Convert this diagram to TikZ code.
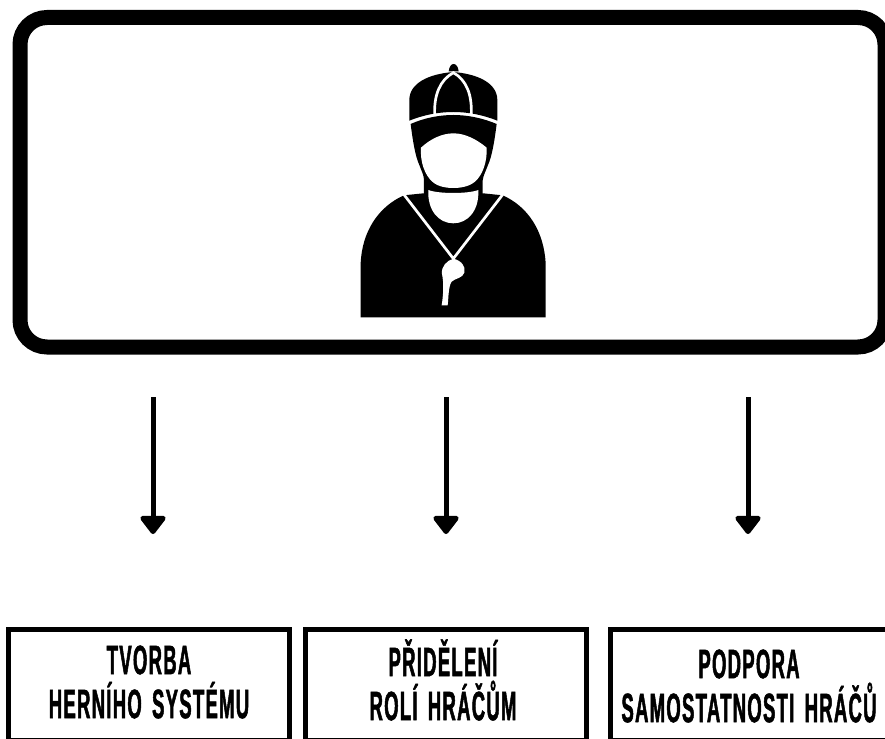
\documentclass[tikz,border=0pt]{standalone}
\usepackage{fontspec}
\setmainfont{Liberation Sans}[BoldFont={Liberation Sans Bold}]
\newfontfamily\condfont{Liberation Sans Bold}[FakeStretch=0.45,LetterSpace=3.2,FakeBold=1.2,WordSpace=1.6]
\usetikzlibrary{arrows.meta}
\tikzset{
  panel/.style={draw=black,line width=15pt,rounded corners=27pt,fill=white},
  taskbox/.style={draw=black,line width=5pt,fill=white,inner sep=0pt},
  tasklabel/.style={align=center,text=black,inner sep=0pt,font=\condfont\fontsize{41}{44}\selectfont},
  flow/.style={draw=black,line width=5pt,-{Triangle[width=29pt,length=20pt,round]}},
  ink/.style={fill=black,draw=none},
  paper/.style={fill=white,draw=none},
  seam/.style={draw=white,line width=2.7pt,fill=none}
}
\begin{document}
\begin{tikzpicture}[x=1pt,y=-1pt]
\useasboundingbox (0,0) rectangle (885,738);
\clip (0,0) rectangle (885,738);
\fill[white] (0,0) rectangle (885,738);

\node[panel,minimum width=865pt,minimum height=329.5pt] (frame) at (452.5,182.25) {};

\begin{scope}[shift={(340,50)},x=0.3333pt,y=-0.3333pt]
  % body
  \path[ink] (62,802) -- (62,640) .. controls (66,545) and (115,470) .. (192,436)
    -- (250,430) -- (430,430) -- (488,436)
    .. controls (565,470) and (612,545) .. (617,640) -- (617,802) -- cycle;
  % head and brim
  \path[ink] (212,222) .. controls (218,270) and (226,320) .. (238,345)
    .. controls (245,365) and (252,375) .. (252,392) -- (252,440) -- (428,440) -- (428,392)
    .. controls (430,375) and (437,365) .. (444,345)
    .. controls (456,320) and (464,270) .. (470,222)
    .. controls (430,205) and (385,195) .. (340,195)
    .. controls (295,195) and (250,205) .. (212,222) -- cycle;
  % cap dome
  \path[ink] (208,212) -- (208,150) .. controls (208,100) and (265,72) .. (340,66)
    .. controls (415,72) and (472,100) .. (472,150) -- (472,212)
    .. controls (430,195) and (385,186) .. (340,186)
    .. controls (295,186) and (250,195) .. (208,212) -- cycle;
  % knob
  \path[ink] (326,64) .. controls (328,50) and (333,42) .. (341,42)
    .. controls (349,42) and (354,50) .. (356,64) -- cycle;
  % cap seams
  \draw[seam] (284,192) .. controls (282,135) and (300,90) .. (340,68)
    .. controls (380,90) and (396,135) .. (394,192);
  % face
  \path[paper] (243,293) .. controls (270,268) and (305,250) .. (340,250)
    .. controls (375,250) and (410,268) .. (440,293)
    .. controls (442,335) and (428,375) .. (405,395)
    .. controls (385,412) and (355,414) .. (340,414)
    .. controls (325,414) and (295,412) .. (277,395)
    .. controls (254,375) and (240,335) .. (243,293) -- cycle;
  % neck
  \path[paper] (265,420) .. controls (295,432) and (385,432) .. (415,420)
    .. controls (418,480) and (385,520) .. (340,520)
    .. controls (295,520) and (262,480) .. (265,420) -- cycle;
  % lanyard
  \draw[seam] (192,434) -- (340,626) -- (488,434);
  % whistle
  \path[paper] (340,626) .. controls (365,632) and (378,650) .. (373,668)
    .. controls (368,685) and (345,685) .. (335,695)
    .. controls (325,710) and (326,740) .. (323,766) -- (305,766)
    .. controls (310,735) and (312,700) .. (306,672)
    .. controls (303,650) and (320,632) .. (340,626) -- cycle;
\end{scope}

\node[taskbox,minimum width=281.5pt,minimum height=111pt] (a) at (148.75,685) {};
\node[taskbox,minimum width=281.5pt,minimum height=111pt] (b) at (446,685) {};
\node[taskbox,minimum width=290pt,minimum height=111pt] (c) at (755.5,685) {};

\node[tasklabel] (ta) at (149,682) {TVORBA\\HERNÍHO SYSTÉMU};
\node[tasklabel] (tb) at (443,680) {PŘIDĚLENÍ\\ROLÍ HRÁČŮM};
\node[tasklabel] (tc) at (749,686) {PODPORA\\SAMOSTATNOSTI HRÁČŮ};

\coordinate (a0) at (153,397);
\coordinate (a1) at (153,534);
\coordinate (b0) at (446,397);
\coordinate (b1) at (446,534);
\coordinate (c0) at (748,397);
\coordinate (c1) at (748,534);
\draw[flow] (a0) -- (a1);
\draw[flow] (b0) -- (b1);
\draw[flow] (c0) -- (c1);
\end{tikzpicture}
\end{document}
